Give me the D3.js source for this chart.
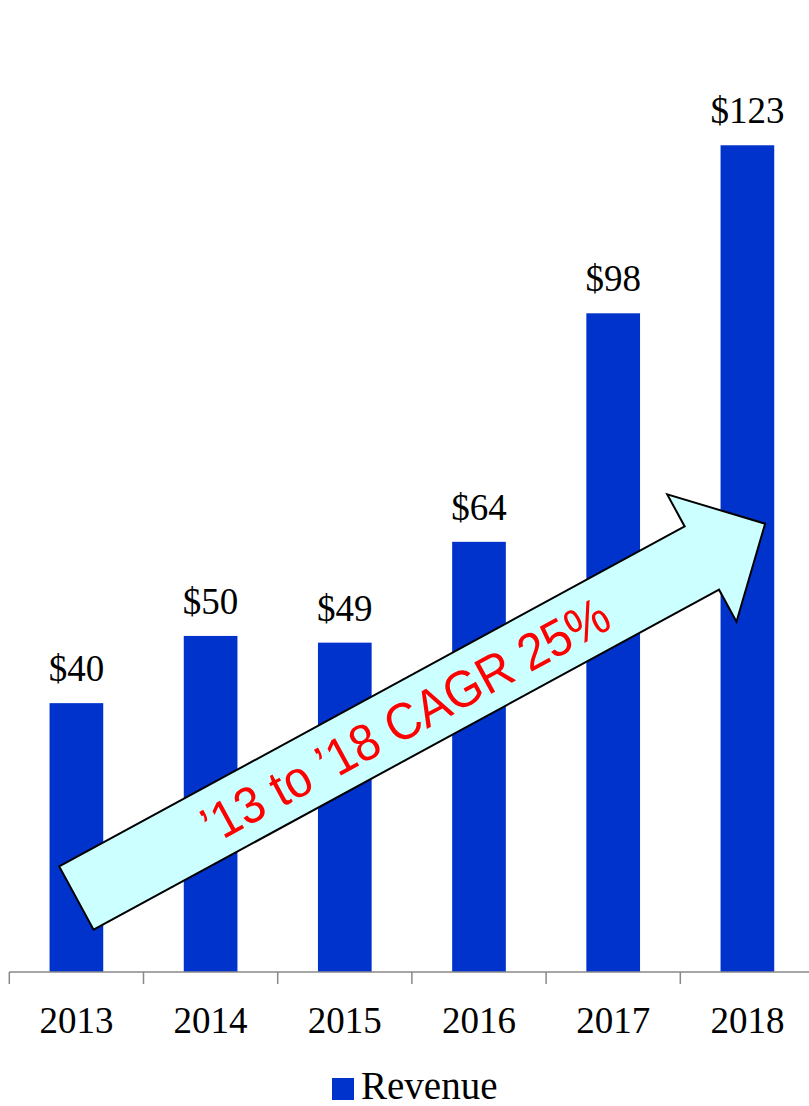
<!DOCTYPE html>
<html>
<head>
<meta charset="utf-8">
<script src="https://cdn.jsdelivr.net/npm/d3@7"></script>
<style>
  body { margin: 0; background: #fff; }
  svg { display: block; }
</style>
</head>
<body>
<div id="chart"></div>
<script>
// Chart data
const years = ['2013', '2014', '2015', '2016', '2017', '2018'];
const revenue = [40, 50, 49, 64, 98, 123];
const valueLabels = ['$40', '$50', '$49', '$64', '$98', '$123'];
const seriesName = 'Revenue';
const cagrText = '\u201913 to \u201918 CAGR 25%';
// arrow runs from the 2013 bar to the 2018 bar (year, value)
const arrowFrom = ['2013', 11];
const arrowTo = ['2018', 66.7];

const width = 809;
const height = 1106;
const barColor = '#0033cc';
const serif = '"Liberation Serif", "Times New Roman", serif';

const svg = d3.select("#chart").append("svg")
    .attr("width", width)
    .attr("height", height);

const x = d3.scaleBand()
    .domain(years)
    .range([9.3, 814.5])
    .paddingInner(0.6)
    .paddingOuter(0.3);

const y = d3.scaleLinear()
    .domain([0, 140])
    .range([972, 31]);

const baseY = y(0);

// Bars
svg.append("g")
    .selectAll("rect")
    .data(years)
    .enter().append("rect")
    .attr("x", d => x(d))
    .attr("y", (d, i) => y(revenue[i]))
    .attr("width", x.bandwidth())
    .attr("height", (d, i) => baseY - y(revenue[i]))
    .style("fill", barColor);

// Value labels above bars
svg.append("g")
    .selectAll("text")
    .data(years)
    .enter().append("text")
    .attr("x", d => x(d) + x.bandwidth() / 2)
    .attr("y", (d, i) => y(revenue[i]) - 22)
    .attr("text-anchor", "middle")
    .style("font-family", serif)
    .style("font-size", "37px")
    .style("fill", "#000")
    .text((d, i) => valueLabels[i]);

// Axis line + ticks between categories
const axis = svg.append("g").attr("class", "x-axis");
const [r0, r1] = x.range();
axis.append("line")
    .attr("x1", r0).attr("x2", r1)
    .attr("y1", baseY).attr("y2", baseY)
    .style("stroke", "#888")
    .style("stroke-width", 1.5);

const boundaries = d3.range(years.length + 1).map(i => r0 + i * x.step());
axis.selectAll(".tick-line")
    .data(boundaries)
    .enter().append("line")
    .attr("class", "tick-line")
    .attr("x1", d => d).attr("x2", d => d)
    .attr("y1", baseY).attr("y2", baseY + 12)
    .style("stroke", "#888")
    .style("stroke-width", 1.5);

axis.selectAll(".year")
    .data(years)
    .enter().append("text")
    .attr("class", "year")
    .attr("x", d => x(d) + x.bandwidth() / 2)
    .attr("y", baseY + 61)
    .attr("text-anchor", "middle")
    .style("font-family", serif)
    .style("font-size", "37px")
    .text(d => d);

// CAGR arrow annotation
const p0 = [x(arrowFrom[0]) + x.bandwidth() * 0.5, y(arrowFrom[1])];
const p1 = [x(arrowTo[0]) + x.bandwidth() * 0.83, y(arrowTo[1])];
const dx = p1[0] - p0[0], dy = p1[1] - p0[1];
const len = Math.hypot(dx, dy);
const ux = dx / len, uy = dy / len;      // along shaft
const nx = -uy, ny = ux;                 // perpendicular
const shaftHalf = 36, headHalf = 72.5, headLen = 72;
const hb = [p1[0] - ux * headLen, p1[1] - uy * headLen];
const pt = (base, s) => [base[0] + nx * s, base[1] + ny * s];
const arrowPts = [
    pt(p0, -shaftHalf), pt(hb, -shaftHalf), pt(hb, -headHalf), p1,
    pt(hb, headHalf), pt(hb, shaftHalf), pt(p0, shaftHalf)
];

svg.append("polygon")
    .attr("points", arrowPts.map(p => p.join(",")).join(" "))
    .style("fill", "#ccffff")
    .style("stroke", "#000")
    .style("stroke-width", 2)
    .style("stroke-linejoin", "miter");

const angle = Math.atan2(dy, dx) * 180 / Math.PI;
const tc = [p0[0] + dx * 0.477, p0[1] + dy * 0.477];
svg.append("text")
    .attr("transform", `translate(${tc[0]},${tc[1]}) rotate(${angle}) scale(1,1.08)`)
    .attr("text-anchor", "middle")
    .attr("dy", "0.36em")
    .style("font-family", '"Liberation Sans", Arial, sans-serif')
    .style("font-size", "48px")
    .style("fill", "#ff0000")
    .text(cagrText);

// Legend
const legend = svg.append("g").attr("transform", "translate(332,1078)");
legend.append("rect")
    .attr("width", 22).attr("height", 22)
    .style("fill", barColor);
legend.append("text")
    .attr("x", 29)
    .attr("y", 21)
    .style("font-family", serif)
    .style("font-size", "39px")
    .text(seriesName);
</script>
</body>
</html>
